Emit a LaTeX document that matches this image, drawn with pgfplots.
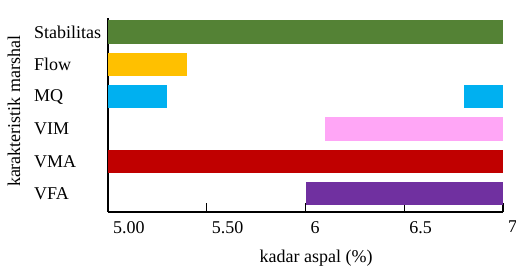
\documentclass[border=0pt]{standalone}
\usepackage{fontspec}
\setmainfont{Liberation Serif}
\usepackage{pgfplots}
\usepackage{pgfplotstable}
\pgfplotsset{compat=1.18}
\definecolor{cgreen}{HTML}{548235}
\definecolor{cyellow}{HTML}{FFC000}
\definecolor{cblue}{HTML}{00B0F0}
\definecolor{cpink}{HTML}{FFA6F6}
\definecolor{cred}{HTML}{C00000}
\definecolor{cpurple}{HTML}{7030A0}
\pgfplotstableread{
y start green yellow blueA gap blueB pink red purple
0 6.0 0 0 0 0 0 0 0 1.0
1 5.0 0 0 0 0 0 0 2.0 0
2 6.1 0 0 0 0 0 0.9 0 0
3 5.0 0 0 0.3 1.5 0.2 0 0 0
4 5.0 0 0.4 0 0 0 0 0 0
5 5.0 2.0 0 0 0 0 0 0 0
}\datatable
\begin{document}
\fontsize{18}{21}\selectfont
\begin{tikzpicture}
\begin{axis}[
  name=ax,
  scale only axis, width=395pt, height=193.7pt,
  xmin=5, xmax=7, ymin=-0.566, ymax=5.424,
  axis lines*=left,
  xtick={5,5.5,6,6.5,7}, xticklabels={5.00,5.50,6,6.5,7},
  ytick={0,1,2,3,4,5}, yticklabels={VFA,VMA,VIM,MQ,Flow,Stabilitas},
  ytick style={draw=none},
  tick align=inside, major tick length=9pt,
  xtick style={black, line width=1.2pt},
  axis line style={black, line width=1.3pt},
  xbar stacked, bar width=23.5pt,
  xticklabel style={anchor=north west, inner sep=0pt, xshift=5pt, yshift=-9pt},
  yticklabel style={anchor=west, inner sep=0pt, xshift=-74pt},
  /pgf/number format/assume math mode=true,
  xlabel={kadar aspal (\%)}, ylabel={karakteristik marshal},
  xlabel style={at={(axis description cs:0.527,0)}, anchor=center, yshift=-46pt},
  ylabel style={at={(axis description cs:-0.238,0.52)}, anchor=center},
]
\addplot[draw=none, fill=none] table[x=start, y=y]{\datatable};
\addplot[draw=none, fill=cgreen] table[x=green, y=y]{\datatable};
\addplot[draw=none, fill=cyellow] table[x=yellow, y=y]{\datatable};
\addplot[draw=none, fill=cblue] table[x=blueA, y=y]{\datatable};
\addplot[draw=none, fill=none] table[x=gap, y=y]{\datatable};
\addplot[draw=none, fill=cblue] table[x=blueB, y=y]{\datatable};
\addplot[draw=none, fill=cpink] table[x=pink, y=y]{\datatable};
\addplot[draw=none, fill=cred] table[x=red, y=y]{\datatable};
\addplot[draw=none, fill=cpurple] table[x=purple, y=y]{\datatable};
\end{axis}
\pgfresetboundingbox
\path[use as bounding box] ([shift={(-108pt,-55pt)}]ax.south west) rectangle ([shift={(408pt,212pt)}]ax.south west);
\end{tikzpicture}
\end{document}
